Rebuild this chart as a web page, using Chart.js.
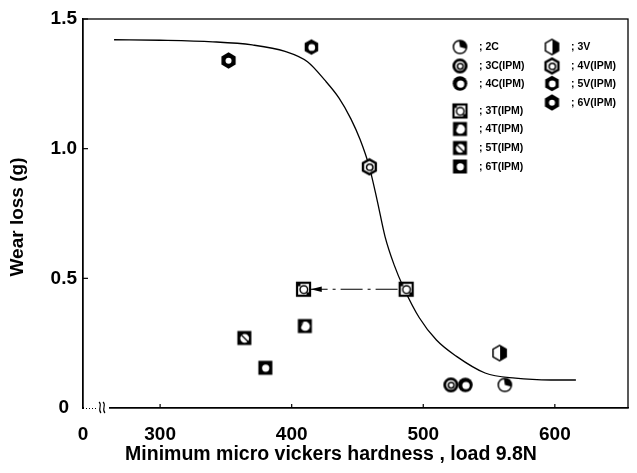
<!DOCTYPE html>
<html><head><meta charset="utf-8">
<script src="https://cdn.jsdelivr.net/npm/chart.js@4"></script>
<style>html,body{margin:0;padding:0;background:#fff}#wrap{width:637px;height:473px}</style>
</head><body><div id="wrap"><canvas id="c" width="637" height="473"></canvas></div>
<script>
// ---- data ----
const xAxisMin = 241.4, xAxisMax = 655.6;
const xTickValues = [241.4, 300, 400, 500, 600];
const xTickLabels = ['0', '300', '400', '500', '600'];
const yTickValues = [0, 0.5, 1.0, 1.5];
const yTickLabels = ['0', '0.5', '1.0', '1.5'];

const curveHardness = [265, 300, 340, 370, 395, 412, 425, 436, 445, 452, 459, 465, 471, 478, 485, 497, 510, 525, 547, 570, 597, 616];
const curveWear     = [1.420, 1.418, 1.412, 1.400, 1.375, 1.335, 1.265, 1.195, 1.115, 1.035, 0.930, 0.800, 0.660, 0.550, 0.465, 0.348, 0.262, 0.200, 0.135, 0.115, 0.108, 0.108];

const labels = ['2C', '3C(IPM)', '4C(IPM)', '3T(IPM)', '4T(IPM)', '5T(IPM)', '6T(IPM)', '3V', '4V(IPM)', '5V(IPM)', '6V(IPM)'];
const h2C = [562], w2C = [0.089];
const h3C = [521], w3C = [0.089];
const h4C = [532], w4C = [0.089];
const h3T = [487, 409], w3T = [0.458, 0.458];
const h4T = [410], w4T = [0.316];
const h5T = [364], w5T = [0.270];
const h6T = [380], w6T = [0.155];
const h3V = [558], w3V = [0.212];
const h4V = [459], w4V = [0.930];
const h5V = [415], w5V = [1.392];
const h6V = [352], w6V = [1.340];

const arrowHardness = [480.5, 414.5];
const arrowWear = [0.458, 0.458];

// ---- marker images ----
function mk(fn){const s=19;const c=document.createElement('canvas');c.width=s;c.height=s;const g=c.getContext('2d');g.translate(s/2,s/2);g.fillStyle='#fff';g.strokeStyle='#000';fn(g);return c;}
function hexPath(g,r){g.beginPath();for(let i=0;i<6;i++){const a=(-90+60*i)*Math.PI/180;const x=r*Math.cos(a),y=r*Math.sin(a);i?g.lineTo(x,y):g.moveTo(x,y);}g.closePath();}
function circ(g,x,y,r){g.beginPath();g.arc(x,y,r,0,Math.PI*2);}
const markers = {
 '2C': mk(g=>{circ(g,0,0,6.6);g.fill();g.lineWidth=1.5;g.stroke();g.beginPath();g.moveTo(0,0);g.arc(0,0,6.6,-Math.PI*0.55,Math.PI*0.08);g.closePath();g.fillStyle='#000';g.fill();}),
 '3C(IPM)': mk(g=>{circ(g,0,0,6.2);g.fill();g.lineWidth=2.8;g.stroke();circ(g,0.3,0.3,2.9);g.lineWidth=1.5;g.stroke();}),
 '4C(IPM)': mk(g=>{circ(g,0,0,7.3);g.fillStyle='#000';g.fill();circ(g,0.6,0.6,3.7);g.fillStyle='#fff';g.fill();}),
 '3T(IPM)': mk(g=>{g.fillRect(-6.5,-6.5,13,13);g.lineWidth=2.2;g.strokeRect(-6.5,-6.5,13,13);circ(g,0.3,0.3,3.8);g.lineWidth=1.4;g.stroke();g.fillStyle='#000';g.fillRect(-6.5,-6.5,3.5,3.5);g.fillRect(3,3,3.5,3.5);}),
 '4T(IPM)': mk(g=>{g.fillStyle='#000';g.fillRect(-7,-7,14,14);circ(g,0.4,0.2,4.6);g.fillStyle='#fff';g.fill();g.beginPath();g.moveTo(-4.5,2.5);g.lineTo(-1,-4.6);g.lineTo(-4.6,-1);g.closePath();g.fillStyle='#000';g.fill();}),
 '5T(IPM)': mk(g=>{g.fillStyle='#000';g.fillRect(-7,-7,14,14);circ(g,0.3,0.3,4.4);g.fillStyle='#fff';g.fill();g.beginPath();g.moveTo(-5,-5);g.lineTo(5,5);g.lineWidth=1.2;g.strokeStyle='#000';g.stroke();}),
 '6T(IPM)': mk(g=>{g.fillStyle='#000';g.fillRect(-7,-7,14,14);circ(g,0.3,0.3,3.6);g.fillStyle='#fff';g.fill();}),
 '3V': mk(g=>{hexPath(g,7.6);g.fill();g.save();g.clip();g.fillStyle='#000';g.fillRect(0.5,-9,9,18);g.restore();hexPath(g,7.6);g.lineWidth=1.5;g.stroke();}),
 '4V(IPM)': mk(g=>{hexPath(g,7.4);g.fill();g.lineWidth=2.4;g.stroke();circ(g,0.3,0.4,3.2);g.lineWidth=1.5;g.stroke();}),
 '5V(IPM)': mk(g=>{hexPath(g,7.8);g.fillStyle='#000';g.fill();circ(g,0.3,0.4,3.4);g.fillStyle='#fff';g.fill();}),
 '6V(IPM)': mk(g=>{hexPath(g,8.2);g.fillStyle='#000';g.fill();circ(g,0,0.3,3.0);g.fillStyle='#fff';g.fill();})
};

function pts(h,w){return h.map((x,i)=>({x:x,y:w[i]}));}
const seriesData = {
 '2C':pts(h2C,w2C),'3C(IPM)':pts(h3C,w3C),'4C(IPM)':pts(h4C,w4C),
 '3T(IPM)':pts(h3T,w3T),'4T(IPM)':pts(h4T,w4T),'5T(IPM)':pts(h5T,w5T),'6T(IPM)':pts(h6T,w6T),
 '3V':pts(h3V,w3V),'4V(IPM)':pts(h4V,w4V),'5V(IPM)':pts(h5V,w5V),'6V(IPM)':pts(h6V,w6V)
};

const datasets = [
 {type:'line',label:'curve',data:pts(curveHardness,curveWear),borderColor:'#000',borderWidth:1.3,pointRadius:0,cubicInterpolationMode:'monotone',fill:false,order:5},
 {type:'line',label:'arrow',data:pts(arrowHardness,arrowWear),borderColor:'#000',borderWidth:1.2,borderDash:[22,5,3,5],pointRadius:0,fill:false,order:4}
];
labels.forEach(l=>datasets.push({type:'scatter',label:l,data:seriesData[l],pointStyle:markers[l],pointRadius:8,pointHoverRadius:8,order:1}));

// legend placement (pixels)
const legendPos = {
 '2C':[460,47],'3C(IPM)':[460,66],'4C(IPM)':[460,83.5],'3T(IPM)':[460,111],'4T(IPM)':[460,129],'5T(IPM)':[460,148],'6T(IPM)':[460,166.5],
 '3V':[552,47],'4V(IPM)':[552,66],'5V(IPM)':[552,83.5],'6V(IPM)':[552,102.5]
};

const deco = {
 id:'deco',
 afterDraw(chart){
  const {ctx,chartArea:a,scales:{x,y}} = chart;
  ctx.save();
  ctx.strokeStyle='#000';ctx.lineWidth=1.3;
  ctx.strokeRect(a.left,a.top,a.right-a.left,a.bottom-a.top);
  // inside ticks
  ctx.lineWidth=1.2;
  [300,400,500,600].forEach(v=>{const px=x.getPixelForValue(v);ctx.beginPath();ctx.moveTo(px,a.bottom);ctx.lineTo(px,a.bottom-4);ctx.stroke();});
  [0.5,1.0,1.5].forEach(v=>{const py=y.getPixelForValue(v);ctx.beginPath();ctx.moveTo(a.left,py);ctx.lineTo(a.left+5,py);ctx.stroke();});
  // axis break
  ctx.fillStyle='#fff';ctx.fillRect(a.left+13,a.bottom-3,13,6);
  ctx.fillRect(a.left+1,a.bottom-1,12,2);
  ctx.setLineDash([1,2]);ctx.lineWidth=1;ctx.beginPath();ctx.moveTo(a.left,a.bottom+0.5);ctx.lineTo(a.left+13,a.bottom+0.5);ctx.stroke();ctx.setLineDash([]);
  ctx.lineWidth=1.1;
  [a.left+17,a.left+21].forEach(bx=>{ctx.beginPath();ctx.moveTo(bx-1,a.bottom-6);ctx.bezierCurveTo(bx+3,a.bottom-3,bx-3,a.bottom+1,bx+1,a.bottom+5);ctx.stroke();});
  // arrowhead
  const tipX = x.getPixelForValue(arrowHardness[1]), tipY = y.getPixelForValue(arrowWear[1]);
  ctx.fillStyle='#000';ctx.beginPath();ctx.moveTo(tipX,tipY);ctx.lineTo(tipX+11,tipY-2.8);ctx.lineTo(tipX+11,tipY+2.8);ctx.closePath();ctx.fill();
  // legend
  ctx.font='bold 10.5px "Liberation Sans", Arial, sans-serif';ctx.textBaseline='middle';ctx.textAlign='left';ctx.fillStyle='#000';
  labels.forEach(l=>{const [lx,ly]=legendPos[l];const m=markers[l];ctx.drawImage(m,lx-m.width/2,ly-m.height/2);ctx.fillText('; '+l,lx+19,ly+0.5);});
  // axis titles
  ctx.font='bold 19.5px "Liberation Sans", Arial, sans-serif';ctx.textAlign='center';ctx.textBaseline='middle';
  ctx.fillText('Minimum micro vickers hardness , load 9.8N',331,455);
  ctx.font='bold 19px "Liberation Sans", Arial, sans-serif';
  ctx.save();ctx.translate(18,217);ctx.rotate(-Math.PI/2);ctx.fillText('Wear loss (g)',0,0);ctx.restore();
  ctx.restore();
 }
};

new Chart(document.getElementById('c'),{
 data:{datasets},
 options:{
  responsive:false,animation:false,devicePixelRatio:1,
  layout:{padding:{top:19,right:3,left:0,bottom:0}},
  plugins:{legend:{display:false},tooltip:{enabled:false}},
  scales:{
   x:{type:'linear',min:xAxisMin,max:xAxisMax,
      afterFit:s=>{s.height=65;},
      afterBuildTicks:s=>{s.ticks=xTickValues.map(v=>({value:v}));},
      grid:{display:false},border:{display:true,color:'#000',width:1.3},
      ticks:{autoSkip:false,maxRotation:0,padding:7,color:'#000',font:{family:'"Liberation Sans", Arial, sans-serif',size:19,weight:'bold'},
        callback:(v)=>{const i=xTickValues.indexOf(v);return i>=0?xTickLabels[i]:'';}}},
   y:{type:'linear',min:0,max:1.5,
      afterFit:s=>{s.width=83;},
      afterBuildTicks:s=>{s.ticks=yTickValues.map(v=>({value:v}));},
      grid:{display:false},border:{display:true,color:'#000',width:1.3},
      ticks:{autoSkip:false,padding:-2,crossAlign:'center',color:'#000',font:{family:'"Liberation Sans", Arial, sans-serif',size:19,weight:'bold'},
        callback:(v)=>{const i=yTickValues.indexOf(v);return i>=0?yTickLabels[i]:'';}}}
  }
 },
 plugins:[deco]
});
</script></body></html>
